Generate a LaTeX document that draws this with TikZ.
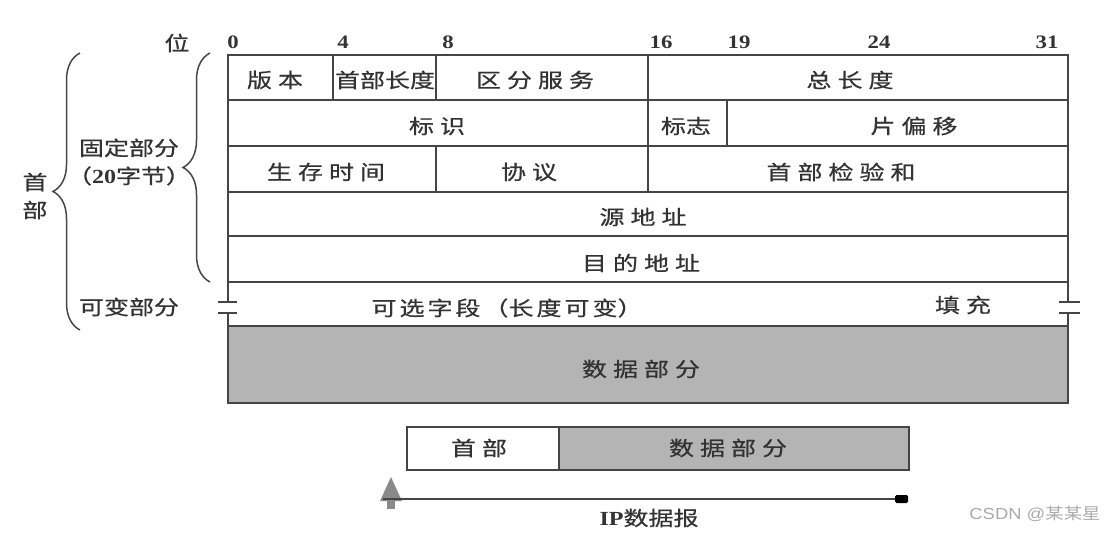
\documentclass[tikz,border=0pt]{standalone}
\usepackage{fontspec}
\setmainfont{Liberation Serif}[FakeStretch=1.2]
\newfontfamily\cjk{Noto Sans CJK SC}[FakeStretch=1.25,FakeBold=0.6]
\newfontfamily\wmsans{Liberation Sans}[FakeStretch=1.15]
\newfontfamily\wmcjk{Noto Sans CJK SC}[FakeStretch=1.15]
\usetikzlibrary{decorations.pathreplacing}
\definecolor{ln}{HTML}{454545}
\definecolor{tc}{HTML}{333333}
\definecolor{fillg}{HTML}{B4B4B4}
\definecolor{mk}{HTML}{8A8A8A}
\definecolor{wm}{HTML}{AAAAAA}
\newcommand\lsp{\hspace{6pt}}
\newcommand\ssp{\hspace{3pt}}
\begin{document}
\begin{tikzpicture}[x=1pt,y=-1pt,
  tl/.style={draw=ln,line width=1.8pt},
  lab/.style={font=\cjk\fontsize{20}{28}\selectfont,text=tc,inner sep=0pt,align=center},
  bit/.style={font=\bfseries\fontsize{19}{20}\selectfont,text=tc,inner sep=0pt},
  brc/.style={draw=ln,line width=1.5pt,decorate,decoration={brace,amplitude=27pt}},
]
\useasboundingbox (0,0) rectangle (1115,537);

% ---- main header table ----
\fill[fillg] (228,326) rectangle (1068,403);
\draw[tl] (228,326) rectangle (1068,403);
\draw[tl] (228,302) -- (228,55) -- (1068,55) -- (1068,302);
\foreach \yy in {100,146,192,236,282} \draw[tl] (228,\yy) -- (1068,\yy);
\draw[tl] (228,313) -- (228,326);
\draw[tl] (1068,313) -- (1068,326);
\draw[tl] (218,302) -- (237,302);
\draw[tl] (218,313) -- (237,313);
\draw[tl] (1059,302) -- (1080,302);
\draw[tl] (1059,313) -- (1080,313);
\draw[tl] (333,55) -- (333,100);
\draw[tl] (436,55) -- (436,100);
\draw[tl] (648,55) -- (648,192);
\draw[tl] (727,100) -- (727,146);
\draw[tl] (436,146) -- (436,192);

% ---- bit numbers ----
\node[lab] (wei) at (177,43) {位};
\node[bit] (b0) at (233,42) {0};
\node[bit] (b4) at (343,42) {4};
\node[bit] (b8) at (448,42) {8};
\node[bit] (b16) at (661,42) {16};
\node[bit] (b19) at (739,42) {19};
\node[bit] (b24) at (879,42) {24};
\node[bit] (b31) at (1047,42) {31};

% ---- field labels ----
\node[lab] (ver) at (275,80) {版\lsp 本};
\node[lab] (ihl) at (385,80) {首部长度};
\node[lab] (tos) at (535,80) {区\lsp 分\lsp 服\lsp 务};
\node[lab] (tlen) at (850,80) {总\lsp 长\lsp 度};
\node[lab] (ident) at (437,126) {标\lsp 识};
\node[lab] (flag) at (686,126) {标志};
\node[lab] (frag) at (914,126) {片\lsp 偏\lsp 移};
\node[lab] (ttl) at (326,172) {生\lsp 存\lsp 时\lsp 间};
\node[lab] (proto) at (529,172) {协\lsp 议};
\node[lab] (csum) at (841,172) {首\lsp 部\lsp 检\lsp 验\lsp 和};
\node[lab] (src) at (643,217) {源\lsp 地\lsp 址};
\node[lab] (dst) at (641,263) {目\lsp 的\lsp 地\lsp 址};
\node[lab] (opt) at (507,308) {可\ssp 选\ssp 字\ssp 段\ssp （长\ssp 度\ssp 可\ssp 变）};
\node[lab] (pad) at (963,305) {填\lsp 充};
\node[lab] (data) at (641,369) {数\lsp 据\lsp 部\lsp 分};

% ---- left labels and braces ----
\node[lab] (hdr) at (35,196) {首\\部};
\node[lab] (fixed) at (129,162) {固定部分\\（{\rmfamily\bfseries 20}字节）};
\node[lab] (var) at (129,307) {可变部分};
\draw[brc] (80,330) -- (80,53);
\draw[brc] (210,282) -- (210,53);

% ---- IP datagram ----
\fill[fillg] (559,427) rectangle (909,470);
\draw[tl] (407,427) rectangle (909,470);
\draw[tl] (559,427) -- (559,470);
\node[lab] (bh) at (479,448) {首\lsp 部};
\node[lab] (bd) at (728,448) {数\lsp 据\lsp 部\lsp 分};

\coordinate (dL) at (383,499);
\coordinate (dR) at (905,499);
\fill[mk] (391,477) -- (402,501) -- (380,501) -- cycle;
\fill[mk] (387,501) rectangle (395,509);
\draw[ln,line width=1.6pt] (dL) -- (dR);
\fill[black,rounded corners=1.5pt] (895,495) rectangle (908,503);
\node[lab] (ipdg) at (649,518) {{\rmfamily\bfseries IP}数据报};

% ---- watermark ----
\node[inner sep=0pt,text=wm,font=\wmsans\fontsize{16}{18}\selectfont] (wmk) at (1035,514) {CSDN @{\wmcjk 某某星}};
\end{tikzpicture}
\end{document}
